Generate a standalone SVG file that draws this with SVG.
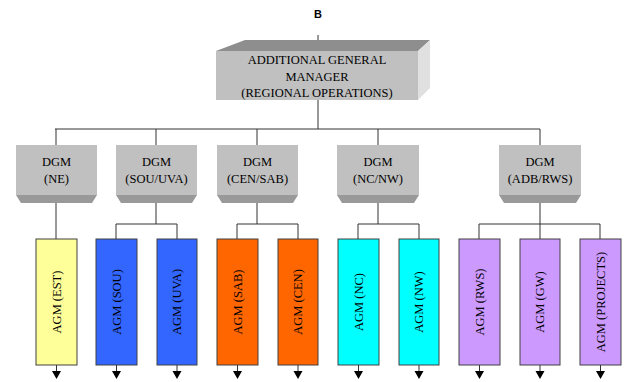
<svg xmlns="http://www.w3.org/2000/svg" width="629" height="382" viewBox="0 0 629 382">
<defs>
<style>
.t{font-family:"Liberation Serif","Times New Roman",serif;font-size:12.5px;fill:#000;text-anchor:middle}
.ln{stroke:#333;stroke-width:1;fill:none}
.front{fill:#c0c0c0}
.bev{fill:#999}
.agm{stroke:#404040;stroke-width:1}
.ah{fill:#000}
</style>
</defs>
<rect width="629" height="382" fill="#fff"/>
<text x="318" y="18" style="font-family:'Liberation Sans',Arial,sans-serif;font-size:11px;font-weight:bold;text-anchor:middle">B</text>

<g id="connectors">
<path class="ln" d="M318,35 V51 M318,100 V129 M55,129 H540 M56,129 V145 M156,129 V145 M257,129 V145 M378,129 V145 M540,129 V145"/>
<path class="ln" d="M56,195 V239 M156,195 V224 M116,224 H177 M116,224 V239 M177,224 V239 M257,195 V224 M237,224 H298 M237,224 V239 M298,224 V239 M378,195 V224 M358,224 H419 M358,224 V239 M419,224 V239 M540,195 V239 M479,224 H600 M479,224 V239 M600,224 V239"/>
<path class="ln" d="M56.5,365 V372 M116.5,365 V372 M177,365 V372 M237.5,365 V372 M298,365 V372 M358.5,365 V372 M419,365 V372 M479.5,365 V372 M540,365 V372 M600.5,365 V372"/>
<g class="ah">
<polygon points="52,371 61,371 56.5,379"/>
<polygon points="112,371 121,371 116.5,379"/>
<polygon points="172.5,371 181.5,371 177,379"/>
<polygon points="233,371 242,371 237.5,379"/>
<polygon points="293.5,371 302.5,371 298,379"/>
<polygon points="354,371 363,371 358.5,379"/>
<polygon points="414.5,371 423.5,371 419,379"/>
<polygon points="475,371 484,371 479.5,379"/>
<polygon points="535.5,371 544.5,371 540,379"/>
<polygon points="596,371 605,371 600.5,379"/>
</g>
</g>

<g id="agm-main">
<polygon points="216,51 245,40 430,40 418,51" fill="#8e8e8e"/>
<polygon points="418,51 430,40 430,88 418,100" fill="#e0e0e0"/>
<rect x="216" y="51" width="202" height="49" class="front"/>
<text class="t" x="317" y="64">ADDITIONAL GENERAL</text>
<text class="t" x="317" y="81">MANAGER</text>
<text class="t" x="317" y="97">(REGIONAL OPERATIONS)</text>
</g>

<g id="dgm-ne">
<rect x="16" y="145" width="81" height="50" class="front"/>
<polygon points="16,195 97,195 92,203 21,203" class="bev"/>
<text class="t" x="56.5" y="166">DGM</text><text class="t" x="56.5" y="183">(NE)</text>
</g>
<g id="dgm-sou-uva">
<rect x="116" y="145" width="81" height="50" class="front"/>
<polygon points="116,195 197,195 192,203 121,203" class="bev"/>
<text class="t" x="156.5" y="166">DGM</text><text class="t" x="156.5" y="183">(SOU/UVA)</text>
</g>
<g id="dgm-cen-sab">
<rect x="217" y="145" width="81" height="50" class="front"/>
<polygon points="217,195 298,195 293,203 222,203" class="bev"/>
<text class="t" x="257.5" y="166">DGM</text><text class="t" x="257.5" y="183">(CEN/SAB)</text>
</g>
<g id="dgm-nc-nw">
<rect x="337" y="145" width="82" height="50" class="front"/>
<polygon points="337,195 419,195 414,203 342,203" class="bev"/>
<text class="t" x="378" y="166">DGM</text><text class="t" x="378" y="183">(NC/NW)</text>
</g>
<g id="dgm-adb-rws">
<rect x="499" y="145" width="82" height="50" class="front"/>
<polygon points="499,195 581,195 576,203 504,203" class="bev"/>
<text class="t" x="540" y="166">DGM</text><text class="t" x="540" y="183">(ADB/RWS)</text>
</g>

<g id="agm-est"><rect x="36" y="239" width="41" height="126" fill="#ffff99" class="agm"/><text class="t" transform="translate(60.5,302) rotate(-90)">AGM (EST)</text></g>
<g id="agm-sou"><rect x="96" y="239" width="41" height="126" fill="#3366ff" class="agm"/><text class="t" transform="translate(120.5,302) rotate(-90)">AGM (SOU)</text></g>
<g id="agm-uva"><rect x="157" y="239" width="40" height="126" fill="#3366ff" class="agm"/><text class="t" transform="translate(181,302) rotate(-90)">AGM (UVA)</text></g>
<g id="agm-sab"><rect x="217" y="239" width="41" height="126" fill="#ff6600" class="agm"/><text class="t" transform="translate(241.5,302) rotate(-90)">AGM (SAB)</text></g>
<g id="agm-cen"><rect x="278" y="239" width="40" height="126" fill="#ff6600" class="agm"/><text class="t" transform="translate(302,302) rotate(-90)">AGM (CEN)</text></g>
<g id="agm-nc"><rect x="338" y="239" width="41" height="126" fill="#00ffff" class="agm"/><text class="t" transform="translate(362.5,302) rotate(-90)">AGM (NC)</text></g>
<g id="agm-nw"><rect x="399" y="239" width="40" height="126" fill="#00ffff" class="agm"/><text class="t" transform="translate(423,302) rotate(-90)">AGM (NW)</text></g>
<g id="agm-rws"><rect x="459" y="239" width="41" height="126" fill="#cc99ff" class="agm"/><text class="t" transform="translate(483.5,302) rotate(-90)">AGM (RWS)</text></g>
<g id="agm-gw"><rect x="520" y="239" width="40" height="126" fill="#cc99ff" class="agm"/><text class="t" transform="translate(544,302) rotate(-90)">AGM (GW)</text></g>
<g id="agm-projects"><rect x="580" y="239" width="41" height="126" fill="#cc99ff" class="agm"/><text class="t" transform="translate(604.5,302) rotate(-90)">AGM (PROJECTS)</text></g>
</svg>
